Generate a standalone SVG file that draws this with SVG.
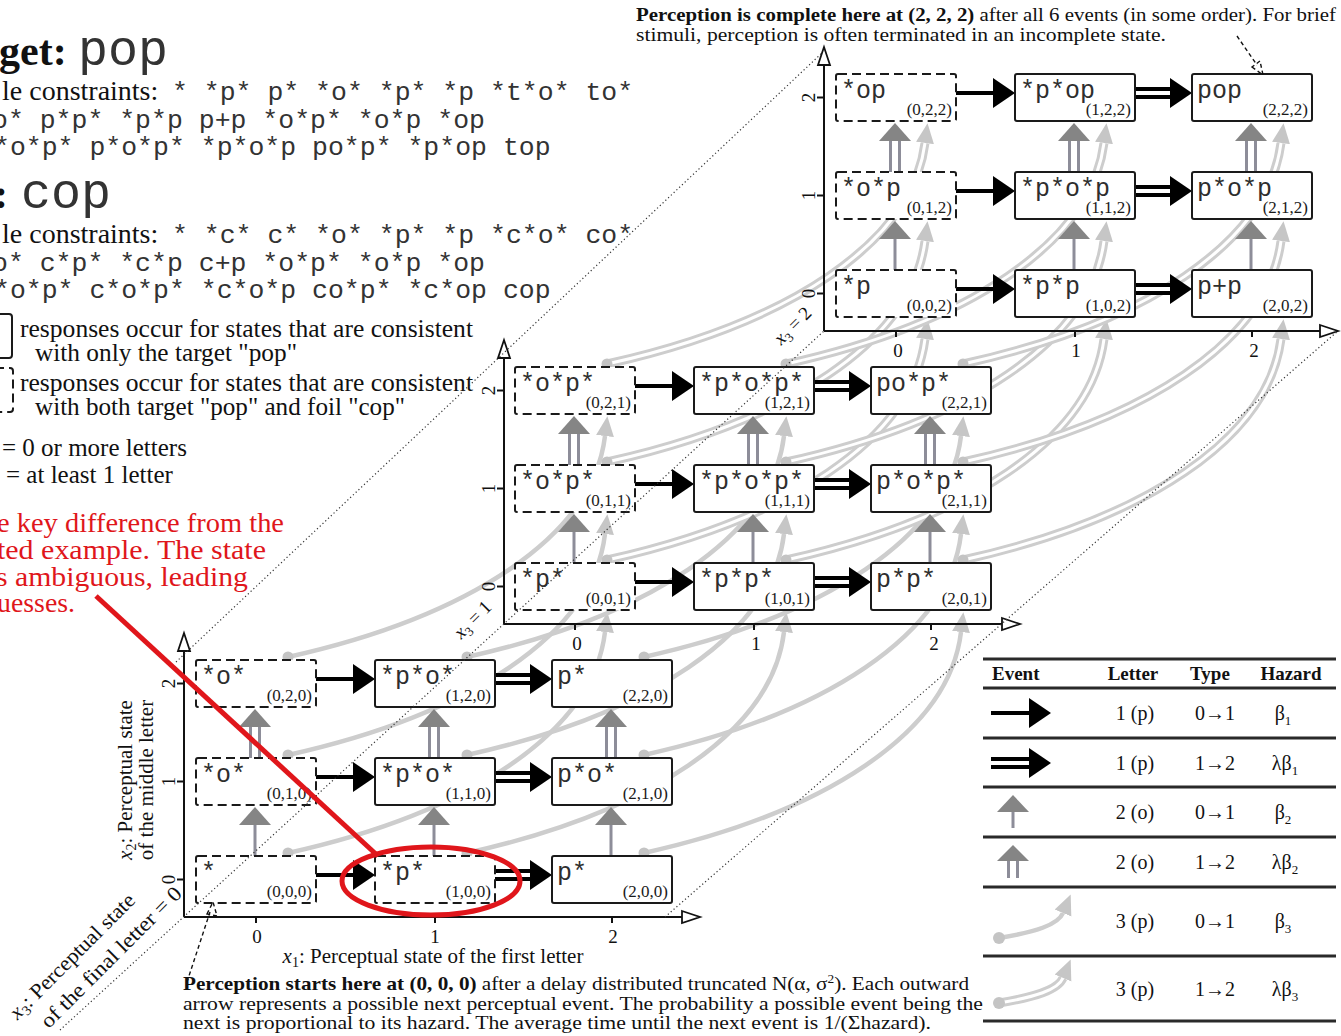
<svg xmlns="http://www.w3.org/2000/svg" width="1341" height="1036" viewBox="0 0 1341 1036">
<defs>
<marker id="lh" markerUnits="userSpaceOnUse" markerWidth="24" markerHeight="24" viewBox="0 -12 24 24" refX="0" refY="0" orient="auto"><path d="M0,-9 L20,0 L0,9 Z" fill="#c6c6c6"/></marker>
<style>
.t{font-family:"Liberation Serif","Times New Roman",serif;fill:#111}
.m{font-family:"Liberation Mono","Courier New",monospace;fill:#333}
.bx{fill:#fff;stroke:#1a1a1a;stroke-width:2}
.db{fill:#fff;stroke:#1a1a1a;stroke-width:2;stroke-dasharray:9 5}
.nl{font-family:"Liberation Mono","Courier New",monospace;font-size:25px;fill:#2e2e2e}
.cl{font-family:"Liberation Serif","Times New Roman",serif;font-size:17px;fill:#1a1a1a;text-anchor:end}
.ax{stroke:#111;stroke-width:2;fill:none}
.ah{fill:#fff;stroke:#111;stroke-width:1.8}
.tk{font-family:"Liberation Serif","Times New Roman",serif;font-size:19px;fill:#111;text-anchor:middle}
.c1{fill:none;stroke:#cdcdcd;stroke-width:4.5;marker-end:url(#lh)}
.c2{fill:none;stroke:#cdcdcd;stroke-width:9;marker-end:url(#lh)}
.c2i{fill:none;stroke:#fff;stroke-width:3}
.sd{fill:#c4c4c4}
.ba{stroke:#000;stroke-width:4}
.bd{stroke:#000;stroke-width:12}
.bdi{stroke:#fff;stroke-width:4}
.hd{fill:#000}
.gs{stroke:#8d8d99;stroke-width:3}
.gh{fill:#858585}
.dt{stroke:#333;stroke-width:1.2;stroke-dasharray:1.2 2.6;fill:none}
.red{fill:#e0161b;font-family:"Liberation Serif","Times New Roman",serif}
.rule{stroke:#2a2a2a;stroke-width:3}
.pt{stroke:#111;stroke-width:1.4;stroke-dasharray:4 3;fill:none}
</style>
</defs>
<rect width="1341" height="1036" fill="#fff"/>

<!-- header texts -->
<g id="title-target">
<text y="65"><tspan class="t" font-size="42" font-weight="bold" x="-1">get:</tspan><tspan class="m" font-size="50" x="78">pop</tspan></text>
<text y="100"><tspan class="t" font-size="28" x="2">le constraints:</tspan><tspan class="m" font-size="26.5" x="172">* *p* p* *o* *p* *p *t*o* to*</tspan></text>
<text class="m" font-size="26.5" x="-8" y="128">o* p*p* *p*p p+p *o*p* *o*p *op</text>
<text class="m" font-size="26.5" x="-6" y="155">*o*p* p*o*p* *p*o*p po*p* *p*op top</text>
</g>
<g id="title-foil">
<text y="208"><tspan class="t" font-size="42" font-weight="bold" x="-6">:</tspan><tspan class="m" font-size="50" x="21">cop</tspan></text>
<text y="243"><tspan class="t" font-size="28" x="2">le constraints:</tspan><tspan class="m" font-size="26.5" x="172">* *c* c* *o* *p* *p *c*o* co*</tspan></text>
<text class="m" font-size="26.5" x="-8" y="271">o* c*p* *c*p c+p *o*p* *o*p *op</text>
<text class="m" font-size="26.5" x="-6" y="298">*o*p* c*o*p* *c*o*p co*p* *c*op cop</text>
</g>
<g id="legend-left">
<rect x="-22" y="314" width="34" height="44" rx="3" class="bx"/>
<text class="t" font-size="25" x="20" y="337" textLength="453" lengthAdjust="spacingAndGlyphs">responses occur for states that are consistent</text>
<text class="t" font-size="25" x="35" y="361" textLength="262" lengthAdjust="spacingAndGlyphs">with only the target "pop"</text>
<rect x="-22" y="368" width="35" height="44" rx="3" class="db"/>
<text class="t" font-size="25" x="20" y="391" textLength="453" lengthAdjust="spacingAndGlyphs">responses occur for states that are consistent</text>
<text class="t" font-size="25" x="35" y="415" textLength="370" lengthAdjust="spacingAndGlyphs">with both target "pop" and foil "cop"</text>
<text class="t" font-size="25" x="2" y="456">= 0 or more letters</text>
<text class="t" font-size="25" x="6" y="483">= at least 1 letter</text>
</g>
<g id="red-note">
<text class="red" font-size="27" x="-3" y="532" textLength="287" lengthAdjust="spacingAndGlyphs">e key difference from the</text>
<text class="red" font-size="27" x="-3" y="559" textLength="269" lengthAdjust="spacingAndGlyphs">ted example. The state</text>
<text class="red" font-size="27" x="-4" y="586" textLength="252" lengthAdjust="spacingAndGlyphs">s ambiguous, leading</text>
<text class="red" font-size="27" x="-3" y="612" textLength="78" lengthAdjust="spacingAndGlyphs">uesses.</text>
</g>

<!-- connectors -->
<g id="connectors">
<g id="x3-events-plane0-to-1">
<path class="c1" d="M288,853 C468,813 593,733 605,632"/>
<path class="c1" d="M467,853 C647,813 772,733 784,632"/>
<path class="c1" d="M644,853 C824,813 949,733 961,632"/>
<path class="c1" d="M288,755 C468,715 593,635 605,534"/>
<path class="c1" d="M467,755 C647,715 772,635 784,534"/>
<path class="c1" d="M644,755 C824,715 949,635 961,534"/>
<path class="c1" d="M288,657 C468,617 593,537 605,436"/>
<path class="c1" d="M467,657 C647,617 772,537 784,436"/>
<path class="c1" d="M644,657 C824,617 949,537 961,436"/>
<circle class="sd" cx="288" cy="853" r="5.5"/><circle class="sd" cx="467" cy="853" r="5.5"/><circle class="sd" cx="644" cy="853" r="5.5"/>
<circle class="sd" cx="288" cy="755" r="5.5"/><circle class="sd" cx="467" cy="755" r="5.5"/><circle class="sd" cx="644" cy="755" r="5.5"/>
<circle class="sd" cx="288" cy="657" r="5.5"/><circle class="sd" cx="467" cy="657" r="5.5"/><circle class="sd" cx="644" cy="657" r="5.5"/>
</g>
<g id="x3-events-plane1-to-2">
<path class="c2" d="M607,560 C787,520 912,440 925,339"/><path class="c2i" d="M607,560 C787,520 912,440 925,339"/>
<path class="c2" d="M786,560 C966,520 1091,440 1104,339"/><path class="c2i" d="M786,560 C966,520 1091,440 1104,339"/>
<path class="c2" d="M963,560 C1143,520 1268,440 1281,339"/><path class="c2i" d="M963,560 C1143,520 1268,440 1281,339"/>
<path class="c2" d="M607,462 C787,422 912,342 925,241"/><path class="c2i" d="M607,462 C787,422 912,342 925,241"/>
<path class="c2" d="M786,462 C966,422 1091,342 1104,241"/><path class="c2i" d="M786,462 C966,422 1091,342 1104,241"/>
<path class="c2" d="M963,462 C1143,422 1268,342 1281,241"/><path class="c2i" d="M963,462 C1143,422 1268,342 1281,241"/>
<path class="c2" d="M607,364 C787,324 912,244 925,143"/><path class="c2i" d="M607,364 C787,324 912,244 925,143"/>
<path class="c2" d="M786,364 C966,324 1091,244 1104,143"/><path class="c2i" d="M786,364 C966,324 1091,244 1104,143"/>
<path class="c2" d="M963,364 C1143,324 1268,244 1281,143"/><path class="c2i" d="M963,364 C1143,324 1268,244 1281,143"/>
<circle class="sd" cx="607" cy="560" r="5.5"/><circle class="sd" cx="786" cy="560" r="5.5"/><circle class="sd" cx="963" cy="560" r="5.5"/>
<circle class="sd" cx="607" cy="462" r="5.5"/><circle class="sd" cx="786" cy="462" r="5.5"/><circle class="sd" cx="963" cy="462" r="5.5"/>
<circle class="sd" cx="607" cy="364" r="5.5"/><circle class="sd" cx="786" cy="364" r="5.5"/><circle class="sd" cx="963" cy="364" r="5.5"/>
</g>
<g id="x1-events">
<line class="ba" x1="316" y1="875" x2="355" y2="875"/><polygon class="hd" points="353,860 375,875 353,890"/>
<line class="ba" x1="316" y1="777" x2="355" y2="777"/><polygon class="hd" points="353,762 375,777 353,792"/>
<line class="ba" x1="316" y1="679" x2="355" y2="679"/><polygon class="hd" points="353,664 375,679 353,694"/>
<line class="bd" x1="495" y1="875" x2="532" y2="875"/><line class="bdi" x1="495" y1="875" x2="530" y2="875"/><polygon class="hd" points="530,860 552,875 530,890"/>
<line class="bd" x1="495" y1="777" x2="532" y2="777"/><line class="bdi" x1="495" y1="777" x2="530" y2="777"/><polygon class="hd" points="530,762 552,777 530,792"/>
<line class="bd" x1="495" y1="679" x2="532" y2="679"/><line class="bdi" x1="495" y1="679" x2="530" y2="679"/><polygon class="hd" points="530,664 552,679 530,694"/>

<line class="ba" x1="635" y1="582" x2="674" y2="582"/><polygon class="hd" points="672,567 694,582 672,597"/>
<line class="ba" x1="635" y1="484" x2="674" y2="484"/><polygon class="hd" points="672,469 694,484 672,499"/>
<line class="ba" x1="635" y1="386" x2="674" y2="386"/><polygon class="hd" points="672,371 694,386 672,401"/>
<line class="bd" x1="814" y1="582" x2="851" y2="582"/><line class="bdi" x1="814" y1="582" x2="849" y2="582"/><polygon class="hd" points="849,567 871,582 849,597"/>
<line class="bd" x1="814" y1="484" x2="851" y2="484"/><line class="bdi" x1="814" y1="484" x2="849" y2="484"/><polygon class="hd" points="849,469 871,484 849,499"/>
<line class="bd" x1="814" y1="386" x2="851" y2="386"/><line class="bdi" x1="814" y1="386" x2="849" y2="386"/><polygon class="hd" points="849,371 871,386 849,401"/>

<line class="ba" x1="956" y1="289" x2="995" y2="289"/><polygon class="hd" points="993,274 1015,289 993,304"/>
<line class="ba" x1="956" y1="191" x2="995" y2="191"/><polygon class="hd" points="993,176 1015,191 993,206"/>
<line class="ba" x1="956" y1="93" x2="995" y2="93"/><polygon class="hd" points="993,78 1015,93 993,108"/>
<line class="bd" x1="1135" y1="289" x2="1172" y2="289"/><line class="bdi" x1="1135" y1="289" x2="1170" y2="289"/><polygon class="hd" points="1170,274 1192,289 1170,304"/>
<line class="bd" x1="1135" y1="191" x2="1172" y2="191"/><line class="bdi" x1="1135" y1="191" x2="1170" y2="191"/><polygon class="hd" points="1170,176 1192,191 1170,206"/>
<line class="bd" x1="1135" y1="93" x2="1172" y2="93"/><line class="bdi" x1="1135" y1="93" x2="1170" y2="93"/><polygon class="hd" points="1170,78 1192,93 1170,108"/>
</g>
<g id="x2-events">
<line class="gs" x1="255" y1="825" x2="255" y2="856"/><polygon class="gh" points="239,825 255,807 271,825"/>
<line class="gs" x1="434" y1="825" x2="434" y2="856"/><polygon class="gh" points="418,825 434,807 450,825"/>
<line class="gs" x1="611" y1="825" x2="611" y2="856"/><polygon class="gh" points="595,825 611,807 627,825"/>
<line class="gs" x1="250.5" y1="727" x2="250.5" y2="758"/><line class="gs" x1="259.5" y1="727" x2="259.5" y2="758"/><polygon class="gh" points="239,727 255,709 271,727"/>
<line class="gs" x1="429.5" y1="727" x2="429.5" y2="758"/><line class="gs" x1="438.5" y1="727" x2="438.5" y2="758"/><polygon class="gh" points="418,727 434,709 450,727"/>
<line class="gs" x1="606.5" y1="727" x2="606.5" y2="758"/><line class="gs" x1="615.5" y1="727" x2="615.5" y2="758"/><polygon class="gh" points="595,727 611,709 627,727"/>

<line class="gs" x1="574" y1="532" x2="574" y2="563"/><polygon class="gh" points="558,532 574,514 590,532"/>
<line class="gs" x1="753" y1="532" x2="753" y2="563"/><polygon class="gh" points="737,532 753,514 769,532"/>
<line class="gs" x1="930" y1="532" x2="930" y2="563"/><polygon class="gh" points="914,532 930,514 946,532"/>
<line class="gs" x1="569.5" y1="434" x2="569.5" y2="465"/><line class="gs" x1="578.5" y1="434" x2="578.5" y2="465"/><polygon class="gh" points="558,434 574,416 590,434"/>
<line class="gs" x1="748.5" y1="434" x2="748.5" y2="465"/><line class="gs" x1="757.5" y1="434" x2="757.5" y2="465"/><polygon class="gh" points="737,434 753,416 769,434"/>
<line class="gs" x1="925.5" y1="434" x2="925.5" y2="465"/><line class="gs" x1="934.5" y1="434" x2="934.5" y2="465"/><polygon class="gh" points="914,434 930,416 946,434"/>

<line class="gs" x1="895" y1="239" x2="895" y2="270"/><polygon class="gh" points="879,239 895,221 911,239"/>
<line class="gs" x1="1074" y1="239" x2="1074" y2="270"/><polygon class="gh" points="1058,239 1074,221 1090,239"/>
<line class="gs" x1="1251" y1="239" x2="1251" y2="270"/><polygon class="gh" points="1235,239 1251,221 1267,239"/>
<line class="gs" x1="890.5" y1="141" x2="890.5" y2="172"/><line class="gs" x1="899.5" y1="141" x2="899.5" y2="172"/><polygon class="gh" points="879,141 895,123 911,141"/>
<line class="gs" x1="1069.5" y1="141" x2="1069.5" y2="172"/><line class="gs" x1="1078.5" y1="141" x2="1078.5" y2="172"/><polygon class="gh" points="1058,141 1074,123 1090,141"/>
<line class="gs" x1="1246.5" y1="141" x2="1246.5" y2="172"/><line class="gs" x1="1255.5" y1="141" x2="1255.5" y2="172"/><polygon class="gh" points="1235,141 1251,123 1267,141"/>
</g>
</g>

<!-- axes -->
<g id="axes">
<line class="ax" x1="184" y1="917" x2="184" y2="651"/><polygon class="ah" points="178,651 184,633 190,651"/>
<line class="ax" x1="184" y1="917" x2="682" y2="917"/><polygon class="ah" points="682,911 700,917 682,923"/>
<line class="ax" x1="177" y1="879.5" x2="184" y2="879.5"/><line class="ax" x1="177" y1="781.5" x2="184" y2="781.5"/><line class="ax" x1="177" y1="683.5" x2="184" y2="683.5"/>
<line class="ax" x1="256" y1="917" x2="256" y2="923"/><line class="ax" x1="435" y1="917" x2="435" y2="923"/><line class="ax" x1="612" y1="917" x2="612" y2="923"/>
<text class="tk" transform="translate(175,879.5) rotate(-90)">0</text><text class="tk" transform="translate(175,781.5) rotate(-90)">1</text><text class="tk" transform="translate(175,683.5) rotate(-90)">2</text>
<text class="tk" x="257" y="943">0</text><text class="tk" x="435" y="943">1</text><text class="tk" x="613" y="943">2</text>

<line class="ax" x1="504" y1="624" x2="504" y2="358"/><polygon class="ah" points="498,358 504,340 510,358"/>
<line class="ax" x1="504" y1="624" x2="1002" y2="624"/><polygon class="ah" points="1002,618 1020,624 1002,630"/>
<line class="ax" x1="497" y1="586.5" x2="504" y2="586.5"/><line class="ax" x1="497" y1="488.5" x2="504" y2="488.5"/><line class="ax" x1="497" y1="390.5" x2="504" y2="390.5"/>
<line class="ax" x1="575" y1="624" x2="575" y2="630"/><line class="ax" x1="754" y1="624" x2="754" y2="630"/><line class="ax" x1="931" y1="624" x2="931" y2="630"/>
<text class="tk" transform="translate(495,586.5) rotate(-90)">0</text><text class="tk" transform="translate(495,488.5) rotate(-90)">1</text><text class="tk" transform="translate(495,390.5) rotate(-90)">2</text>
<text class="tk" x="577" y="650">0</text><text class="tk" x="756" y="650">1</text><text class="tk" x="934" y="650">2</text>

<line class="ax" x1="824" y1="331" x2="824" y2="65"/><polygon class="ah" points="818,65 824,47 830,65"/>
<line class="ax" x1="824" y1="331" x2="1320" y2="331"/><polygon class="ah" points="1320,325 1338,331 1320,337"/>
<line class="ax" x1="817" y1="293.5" x2="824" y2="293.5"/><line class="ax" x1="817" y1="195.5" x2="824" y2="195.5"/><line class="ax" x1="817" y1="97.5" x2="824" y2="97.5"/>
<line class="ax" x1="896" y1="331" x2="896" y2="337"/><line class="ax" x1="1075" y1="331" x2="1075" y2="337"/><line class="ax" x1="1252" y1="331" x2="1252" y2="337"/>
<text class="tk" transform="translate(815,293.5) rotate(-90)">0</text><text class="tk" transform="translate(815,195.5) rotate(-90)">1</text><text class="tk" transform="translate(815,97.5) rotate(-90)">2</text>
<text class="tk" x="898" y="357">0</text><text class="tk" x="1076" y="357">1</text><text class="tk" x="1254" y="357">2</text>

<text class="t" font-size="21" x="433" y="963" text-anchor="middle"><tspan font-style="italic">x</tspan><tspan font-size="14" dy="4">1</tspan><tspan dy="-4">: Perceptual state of the first letter</tspan></text>
<text class="t" font-size="21" transform="translate(132,780) rotate(-90)" text-anchor="middle"><tspan font-style="italic">x</tspan><tspan font-size="14" dy="4">2</tspan><tspan dy="-4">: Perceptual state</tspan></text>
<text class="t" font-size="21" transform="translate(153,780) rotate(-90)" text-anchor="middle">of the middle letter</text>
<text class="t" font-size="21" transform="translate(77,961) rotate(-45)" text-anchor="middle" textLength="168" lengthAdjust="spacingAndGlyphs"><tspan font-style="italic">x</tspan><tspan font-size="14" dy="4">3</tspan><tspan dy="-4">: Perceptual state</tspan></text>
<text class="t" font-size="21" transform="translate(116,962) rotate(-45)" text-anchor="middle" textLength="190" lengthAdjust="spacingAndGlyphs">of the final letter = 0</text>
<text class="t" font-size="19" transform="translate(477,624) rotate(-45)" text-anchor="middle"><tspan font-style="italic">x</tspan><tspan font-size="13" dy="4">3</tspan><tspan dy="-4"> = 1</tspan></text>
<text class="t" font-size="19" transform="translate(797,330) rotate(-45)" text-anchor="middle"><tspan font-style="italic">x</tspan><tspan font-size="13" dy="4">3</tspan><tspan dy="-4"> = 2</tspan></text>
</g>

<!-- nodes plane x3=2 -->
<g id="n002"><rect class="db" x="836" y="270" width="120" height="47" rx="2"/><text class="nl" x="841" y="294">*p</text><text class="cl" x="952" y="311">(0,0,2)</text></g>
<g id="n102"><rect class="bx" x="1015" y="270" width="120" height="47" rx="2"/><text class="nl" x="1020" y="294">*p*p</text><text class="cl" x="1131" y="311">(1,0,2)</text></g>
<g id="n202"><rect class="bx" x="1192" y="270" width="120" height="47" rx="2"/><text class="nl" x="1197" y="294">p+p</text><text class="cl" x="1308" y="311">(2,0,2)</text></g>
<g id="n012"><rect class="db" x="836" y="172" width="120" height="47" rx="2"/><text class="nl" x="841" y="196">*o*p</text><text class="cl" x="952" y="213">(0,1,2)</text></g>
<g id="n112"><rect class="bx" x="1015" y="172" width="120" height="47" rx="2"/><text class="nl" x="1020" y="196">*p*o*p</text><text class="cl" x="1131" y="213">(1,1,2)</text></g>
<g id="n212"><rect class="bx" x="1192" y="172" width="120" height="47" rx="2"/><text class="nl" x="1197" y="196">p*o*p</text><text class="cl" x="1308" y="213">(2,1,2)</text></g>
<g id="n022"><rect class="db" x="836" y="74" width="120" height="47" rx="2"/><text class="nl" x="841" y="98">*op</text><text class="cl" x="952" y="115">(0,2,2)</text></g>
<g id="n122"><rect class="bx" x="1015" y="74" width="120" height="47" rx="2"/><text class="nl" x="1020" y="98">*p*op</text><text class="cl" x="1131" y="115">(1,2,2)</text></g>
<g id="n222"><rect class="bx" x="1192" y="74" width="120" height="47" rx="2"/><text class="nl" x="1197" y="98">pop</text><text class="cl" x="1308" y="115">(2,2,2)</text></g>

<!-- nodes plane x3=1 -->
<g id="n001"><rect class="db" x="515" y="563" width="120" height="47" rx="2"/><text class="nl" x="520" y="587">*p*</text><text class="cl" x="631" y="604">(0,0,1)</text></g>
<g id="n101"><rect class="bx" x="694" y="563" width="120" height="47" rx="2"/><text class="nl" x="699" y="587">*p*p*</text><text class="cl" x="810" y="604">(1,0,1)</text></g>
<g id="n201"><rect class="bx" x="871" y="563" width="120" height="47" rx="2"/><text class="nl" x="876" y="587">p*p*</text><text class="cl" x="987" y="604">(2,0,1)</text></g>
<g id="n011"><rect class="db" x="515" y="465" width="120" height="47" rx="2"/><text class="nl" x="520" y="489">*o*p*</text><text class="cl" x="631" y="506">(0,1,1)</text></g>
<g id="n111"><rect class="bx" x="694" y="465" width="120" height="47" rx="2"/><text class="nl" x="699" y="489">*p*o*p*</text><text class="cl" x="810" y="506">(1,1,1)</text></g>
<g id="n211"><rect class="bx" x="871" y="465" width="120" height="47" rx="2"/><text class="nl" x="876" y="489">p*o*p*</text><text class="cl" x="987" y="506">(2,1,1)</text></g>
<g id="n021"><rect class="db" x="515" y="367" width="120" height="47" rx="2"/><text class="nl" x="520" y="391">*o*p*</text><text class="cl" x="631" y="408">(0,2,1)</text></g>
<g id="n121"><rect class="bx" x="694" y="367" width="120" height="47" rx="2"/><text class="nl" x="699" y="391">*p*o*p*</text><text class="cl" x="810" y="408">(1,2,1)</text></g>
<g id="n221"><rect class="bx" x="871" y="367" width="120" height="47" rx="2"/><text class="nl" x="876" y="391">po*p*</text><text class="cl" x="987" y="408">(2,2,1)</text></g>

<!-- nodes plane x3=0 -->
<g id="n000"><rect class="db" x="196" y="856" width="120" height="47" rx="2"/><text class="nl" x="201" y="880">*</text><text class="cl" x="312" y="897">(0,0,0)</text></g>
<g id="n100"><rect class="db" x="375" y="856" width="120" height="47" rx="2"/><text class="nl" x="380" y="880">*p*</text><text class="cl" x="491" y="897">(1,0,0)</text></g>
<g id="n200"><rect class="bx" x="552" y="856" width="120" height="47" rx="2"/><text class="nl" x="557" y="880">p*</text><text class="cl" x="668" y="897">(2,0,0)</text></g>
<g id="n010"><rect class="db" x="196" y="758" width="120" height="47" rx="2"/><text class="nl" x="201" y="782">*o*</text><text class="cl" x="312" y="799">(0,1,0)</text></g>
<g id="n110"><rect class="bx" x="375" y="758" width="120" height="47" rx="2"/><text class="nl" x="380" y="782">*p*o*</text><text class="cl" x="491" y="799">(1,1,0)</text></g>
<g id="n210"><rect class="bx" x="552" y="758" width="120" height="47" rx="2"/><text class="nl" x="557" y="782">p*o*</text><text class="cl" x="668" y="799">(2,1,0)</text></g>
<g id="n020"><rect class="db" x="196" y="660" width="120" height="47" rx="2"/><text class="nl" x="201" y="684">*o*</text><text class="cl" x="312" y="701">(0,2,0)</text></g>
<g id="n120"><rect class="bx" x="375" y="660" width="120" height="47" rx="2"/><text class="nl" x="380" y="684">*p*o*</text><text class="cl" x="491" y="701">(1,2,0)</text></g>
<g id="n220"><rect class="bx" x="552" y="660" width="120" height="47" rx="2"/><text class="nl" x="557" y="684">p*</text><text class="cl" x="668" y="701">(2,2,0)</text></g>

<!-- dotted cube edges -->
<g id="cube-edges">
<line class="dt" x1="60" y1="1030" x2="824" y2="331"/>
<line class="dt" x1="176" y1="662" x2="823" y2="52"/>
<line class="dt" x1="665" y1="917" x2="1338" y2="331"/>
</g>

<!-- highlight -->
<g id="highlight">
<line x1="96" y1="596" x2="378" y2="856" stroke="#e0161b" stroke-width="5"/>
<ellipse cx="431" cy="881" rx="89" ry="34" fill="none" stroke="#e0161b" stroke-width="5"/>
</g>

<!-- annotations -->
<g id="note-complete">
<text class="t" font-size="18" x="636" y="21" textLength="700" lengthAdjust="spacingAndGlyphs"><tspan font-weight="bold">Perception is complete here at (2, 2, 2)</tspan> after all 6 events (in some order). For brief</text>
<text class="t" font-size="18" x="636" y="41" textLength="530" lengthAdjust="spacingAndGlyphs">stimuli, perception is often terminated in an incomplete state.</text>
<line class="pt" x1="1237" y1="36" x2="1257" y2="65"/>
<polygon class="pt" points="1252,67 1263,75 1260,61"/>
</g>
<g id="note-start">
<text class="t" font-size="19" x="183" y="990" textLength="786" lengthAdjust="spacingAndGlyphs"><tspan font-weight="bold">Perception starts here at (0, 0, 0)</tspan> after a delay distributed truncated N(α, σ<tspan font-size="12" dy="-7">2</tspan><tspan dy="7">). Each outward</tspan></text>
<text class="t" font-size="19" x="183" y="1010" textLength="800" lengthAdjust="spacingAndGlyphs">arrow represents a possible next perceptual event. The probability a possible event being the</text>
<text class="t" font-size="19" x="183" y="1029" textLength="748" lengthAdjust="spacingAndGlyphs">next is proportional to its hazard. The average time until the next event is 1/(Σhazard).</text>
<line class="pt" x1="187" y1="982" x2="210" y2="912"/>
<polygon class="pt" points="207,914 213,902 217,916"/>
</g>

<!-- event table -->
<g id="event-table">
<line class="rule" x1="983" y1="659" x2="1336" y2="659"/>
<line class="rule" x1="983" y1="688" x2="1336" y2="688"/>
<line class="rule" x1="983" y1="738" x2="1336" y2="738"/>
<line class="rule" x1="983" y1="787" x2="1336" y2="787"/>
<line class="rule" x1="983" y1="837" x2="1336" y2="837"/>
<line class="rule" x1="983" y1="887" x2="1336" y2="887"/>
<line class="rule" x1="983" y1="956" x2="1336" y2="956"/>
<line class="rule" x1="983" y1="1021" x2="1336" y2="1021"/>
<text class="t" font-size="19" font-weight="bold" x="992" y="680">Event</text>
<text class="t" font-size="19" font-weight="bold" x="1133" y="680" text-anchor="middle">Letter</text>
<text class="t" font-size="19" font-weight="bold" x="1210" y="680" text-anchor="middle">Type</text>
<text class="t" font-size="19" font-weight="bold" x="1291" y="680" text-anchor="middle">Hazard</text>

<line class="ba" x1="991" y1="713" x2="1031" y2="713"/><polygon class="hd" points="1029,698 1051,713 1029,728"/>
<line class="bd" x1="991" y1="763" x2="1031" y2="763"/><line class="bdi" x1="991" y1="763" x2="1029" y2="763"/><polygon class="hd" points="1029,748 1051,763 1029,778"/>
<line class="gs" x1="1013" y1="812" x2="1013" y2="828"/><polygon class="gh" points="997,812 1013,795 1029,812"/>
<line class="gs" x1="1008.5" y1="861" x2="1008.5" y2="878"/><line class="gs" x1="1017.5" y1="861" x2="1017.5" y2="878"/><polygon class="gh" points="997,861 1013,845 1029,861"/>
<path class="c1" d="M999,938 C1035,932 1058,925 1063,913"/><circle class="sd" cx="999" cy="938" r="6"/>
<path class="c2" d="M999,1003 C1035,997 1058,990 1063,978"/><path class="c2i" d="M999,1003 C1035,997 1058,990 1063,978"/><circle class="sd" cx="999" cy="1003" r="6"/>

<g class="t" font-size="20" text-anchor="middle">
<text x="1135" y="720">1 (p)</text><text x="1215" y="720">0→1</text><text x="1283" y="720">β<tspan font-size="13" dy="5">1</tspan></text>
<text x="1135" y="770">1 (p)</text><text x="1215" y="770">1→2</text><text x="1285" y="770">λβ<tspan font-size="13" dy="5">1</tspan></text>
<text x="1135" y="819">2 (o)</text><text x="1215" y="819">0→1</text><text x="1283" y="819">β<tspan font-size="13" dy="5">2</tspan></text>
<text x="1135" y="869">2 (o)</text><text x="1215" y="869">1→2</text><text x="1285" y="869">λβ<tspan font-size="13" dy="5">2</tspan></text>
<text x="1135" y="928">3 (p)</text><text x="1215" y="928">0→1</text><text x="1283" y="928">β<tspan font-size="13" dy="5">3</tspan></text>
<text x="1135" y="996">3 (p)</text><text x="1215" y="996">1→2</text><text x="1285" y="996">λβ<tspan font-size="13" dy="5">3</tspan></text>
</g>
</g>
</svg>
